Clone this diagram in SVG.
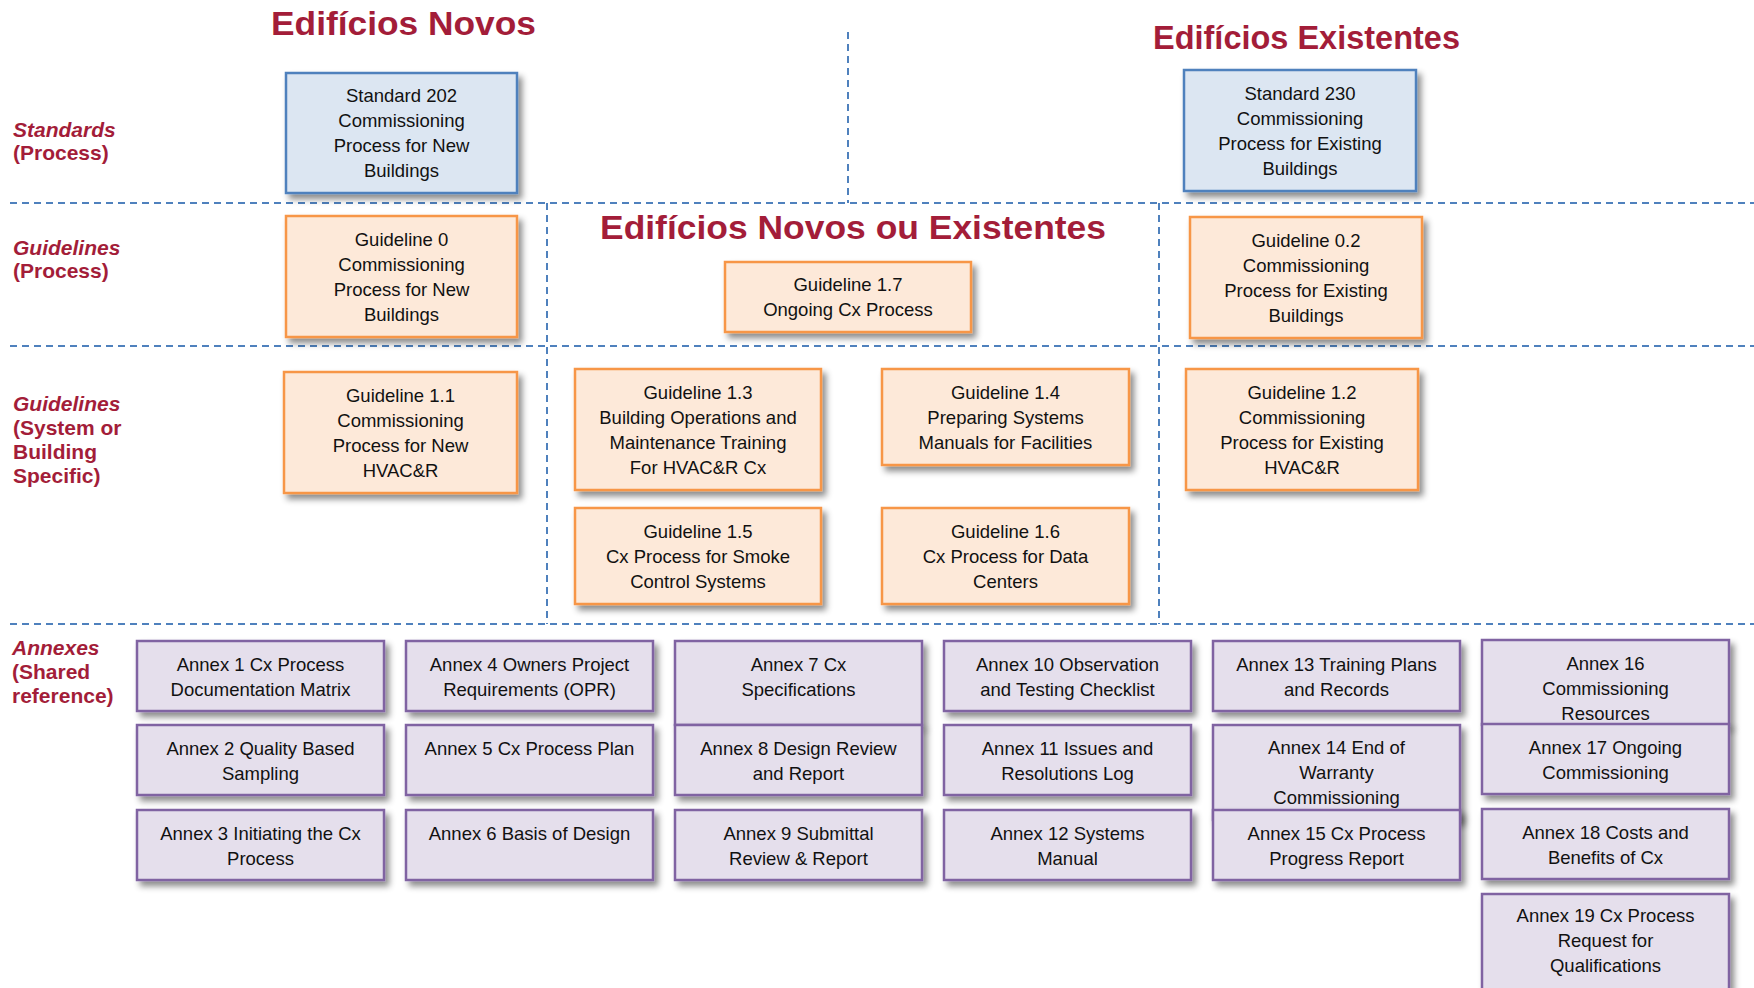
<svg xmlns="http://www.w3.org/2000/svg" width="1754" height="988" viewBox="0 0 1754 988">
<style>
.title{font-family:"Liberation Sans",Arial,sans-serif;font-weight:bold;font-size:33px;fill:#A31D39}
.lbl{font-family:"Liberation Sans",Arial,sans-serif;font-weight:bold;font-size:21px;fill:#A31D39}
.it{font-style:italic}
.t{font-family:"Liberation Sans",Arial,sans-serif;font-size:18.5px;fill:#111;text-anchor:middle}
.std{fill:#DCE6F2;stroke:#4F81BD;stroke-width:2.5}
.gl{fill:#FDE9D9;stroke:#F79646;stroke-width:2.5}
.ax{fill:#E5DFEC;stroke:#8064A2;stroke-width:2.5}
.sep{stroke:#4F81BD;stroke-width:2;stroke-dasharray:7 5;fill:none}
</style>
<defs>
<filter id="sh" x="-10%" y="-10%" width="130%" height="140%">
<feDropShadow dx="4" dy="5" stdDeviation="3" flood-color="#000" flood-opacity="0.45"/>
</filter>
</defs>
<rect width="1754" height="988" fill="#fff"/>

<g id="separators">
<line class="sep" x1="848" y1="32" x2="848" y2="203"/>
<line class="sep" x1="10" y1="203" x2="1754" y2="203"/>
<line class="sep" x1="10" y1="346" x2="1754" y2="346"/>
<line class="sep" x1="10" y1="624" x2="1754" y2="624"/>
<line class="sep" x1="547" y1="203" x2="547" y2="624"/>
<line class="sep" x1="1159" y1="203" x2="1159" y2="624"/>
</g>

<g id="titles">
<text class="title" x="271" y="35" textLength="265" lengthAdjust="spacingAndGlyphs">Edifícios Novos</text>
<text class="title" x="1153" y="49" textLength="307" lengthAdjust="spacingAndGlyphs">Edifícios Existentes</text>
<text class="title" x="600" y="239" textLength="506" lengthAdjust="spacingAndGlyphs">Edifícios Novos ou Existentes</text>
</g>

<g id="row-labels">
<text class="lbl it" x="13" y="137">Standards</text>
<text class="lbl" x="13" y="160">(Process)</text>
<text class="lbl it" x="13" y="255">Guidelines</text>
<text class="lbl" x="13" y="278">(Process)</text>
<text class="lbl it" x="13" y="411">Guidelines</text>
<text class="lbl" x="13" y="435">(System or</text>
<text class="lbl" x="13" y="459">Building</text>
<text class="lbl" x="13" y="483">Specific)</text>
<text class="lbl it" x="12" y="655">Annexes</text>
<text class="lbl" x="12" y="679">(Shared</text>
<text class="lbl" x="12" y="703">reference)</text>
</g>

<g id="std202"><rect class="std" x="286" y="73" width="231" height="120" filter="url(#sh)"/>
<text class="t" x="401.5" y="102">Standard 202</text><text class="t" x="401.5" y="127">Commissioning</text><text class="t" x="401.5" y="152">Process for New</text><text class="t" x="401.5" y="177">Buildings</text></g>

<g id="std230"><rect class="std" x="1184" y="70" width="232" height="121" filter="url(#sh)"/>
<text class="t" x="1300" y="99.5">Standard 230</text><text class="t" x="1300" y="124.5">Commissioning</text><text class="t" x="1300" y="149.5">Process for Existing</text><text class="t" x="1300" y="174.5">Buildings</text></g>

<g id="gl0"><rect class="gl" x="286" y="216" width="231" height="121" filter="url(#sh)"/>
<text class="t" x="401.5" y="245.5">Guideline 0</text><text class="t" x="401.5" y="270.5">Commissioning</text><text class="t" x="401.5" y="295.5">Process for New</text><text class="t" x="401.5" y="320.5">Buildings</text></g>

<g id="gl17"><rect class="gl" x="725" y="262" width="246" height="70" filter="url(#sh)"/>
<text class="t" x="848" y="291">Guideline 1.7</text><text class="t" x="848" y="316">Ongoing Cx Process</text></g>

<g id="gl02"><rect class="gl" x="1190" y="217" width="232" height="121" filter="url(#sh)"/>
<text class="t" x="1306" y="246.5">Guideline 0.2</text><text class="t" x="1306" y="271.5">Commissioning</text><text class="t" x="1306" y="296.5">Process for Existing</text><text class="t" x="1306" y="321.5">Buildings</text></g>

<g id="gl11"><rect class="gl" x="284" y="372" width="233" height="121" filter="url(#sh)"/>
<text class="t" x="400.5" y="401.5">Guideline 1.1</text><text class="t" x="400.5" y="426.5">Commissioning</text><text class="t" x="400.5" y="451.5">Process for New</text><text class="t" x="400.5" y="476.5">HVAC&amp;R</text></g>

<g id="gl13"><rect class="gl" x="575" y="369" width="246" height="121" filter="url(#sh)"/>
<text class="t" x="698" y="398.5">Guideline 1.3</text><text class="t" x="698" y="423.5">Building Operations and</text><text class="t" x="698" y="448.5">Maintenance Training</text><text class="t" x="698" y="473.5">For HVAC&amp;R Cx</text></g>

<g id="gl14"><rect class="gl" x="882" y="369" width="247" height="96" filter="url(#sh)"/>
<text class="t" x="1005.5" y="398.5">Guideline 1.4</text><text class="t" x="1005.5" y="423.5">Preparing Systems</text><text class="t" x="1005.5" y="448.5">Manuals for Facilities</text></g>

<g id="gl15"><rect class="gl" x="575" y="508" width="246" height="96" filter="url(#sh)"/>
<text class="t" x="698" y="537.5">Guideline 1.5</text><text class="t" x="698" y="562.5">Cx Process for Smoke</text><text class="t" x="698" y="587.5">Control Systems</text></g>

<g id="gl16"><rect class="gl" x="882" y="508" width="247" height="96" filter="url(#sh)"/>
<text class="t" x="1005.5" y="537.5">Guideline 1.6</text><text class="t" x="1005.5" y="562.5">Cx Process for Data</text><text class="t" x="1005.5" y="587.5">Centers</text></g>

<g id="gl12"><rect class="gl" x="1186" y="369" width="232" height="121" filter="url(#sh)"/>
<text class="t" x="1302" y="398.5">Guideline 1.2</text><text class="t" x="1302" y="423.5">Commissioning</text><text class="t" x="1302" y="448.5">Process for Existing</text><text class="t" x="1302" y="473.5">HVAC&amp;R</text></g>

<g id="annex1"><rect class="ax" x="137" y="641" width="247" height="70" filter="url(#sh)"/>
<text class="t" x="260.5" y="670.5">Annex 1 Cx Process</text><text class="t" x="260.5" y="695.5">Documentation Matrix</text></g>
<g id="annex2"><rect class="ax" x="137" y="725" width="247" height="70" filter="url(#sh)"/>
<text class="t" x="260.5" y="754.5">Annex 2 Quality Based</text><text class="t" x="260.5" y="779.5">Sampling</text></g>
<g id="annex3"><rect class="ax" x="137" y="810" width="247" height="70" filter="url(#sh)"/>
<text class="t" x="260.5" y="839.5">Annex 3 Initiating the Cx</text><text class="t" x="260.5" y="864.5">Process</text></g>

<g id="annex4"><rect class="ax" x="406" y="641" width="247" height="70" filter="url(#sh)"/>
<text class="t" x="529.5" y="670.5">Annex 4 Owners Project</text><text class="t" x="529.5" y="695.5">Requirements (OPR)</text></g>
<g id="annex5"><rect class="ax" x="406" y="725" width="247" height="70" filter="url(#sh)"/>
<text class="t" x="529.5" y="754.5">Annex 5 Cx Process Plan</text></g>
<g id="annex6"><rect class="ax" x="406" y="810" width="247" height="70" filter="url(#sh)"/>
<text class="t" x="529.5" y="839.5">Annex 6 Basis of Design</text></g>

<g id="annex7"><rect class="ax" x="675" y="641" width="247" height="84" filter="url(#sh)"/>
<text class="t" x="798.5" y="670.5">Annex 7 Cx</text><text class="t" x="798.5" y="695.5">Specifications</text></g>
<g id="annex8"><rect class="ax" x="675" y="725" width="247" height="70" filter="url(#sh)"/>
<text class="t" x="798.5" y="754.5">Annex 8 Design Review</text><text class="t" x="798.5" y="779.5">and Report</text></g>
<g id="annex9"><rect class="ax" x="675" y="810" width="247" height="70" filter="url(#sh)"/>
<text class="t" x="798.5" y="839.5">Annex 9 Submittal</text><text class="t" x="798.5" y="864.5">Review &amp; Report</text></g>

<g id="annex10"><rect class="ax" x="944" y="641" width="247" height="70" filter="url(#sh)"/>
<text class="t" x="1067.5" y="670.5">Annex 10 Observation</text><text class="t" x="1067.5" y="695.5">and Testing Checklist</text></g>
<g id="annex11"><rect class="ax" x="944" y="725" width="247" height="70" filter="url(#sh)"/>
<text class="t" x="1067.5" y="754.5">Annex 11 Issues and</text><text class="t" x="1067.5" y="779.5">Resolutions Log</text></g>
<g id="annex12"><rect class="ax" x="944" y="810" width="247" height="70" filter="url(#sh)"/>
<text class="t" x="1067.5" y="839.5">Annex 12 Systems</text><text class="t" x="1067.5" y="864.5">Manual</text></g>

<g id="annex13"><rect class="ax" x="1213" y="641" width="247" height="70" filter="url(#sh)"/>
<text class="t" x="1336.5" y="670.5">Annex 13 Training Plans</text><text class="t" x="1336.5" y="695.5">and Records</text></g>
<g id="annex14"><rect class="ax" x="1213" y="725" width="247" height="95" filter="url(#sh)"/>
<text class="t" x="1336.5" y="754">Annex 14 End of</text><text class="t" x="1336.5" y="779">Warranty</text><text class="t" x="1336.5" y="804">Commissioning</text></g>
<g id="annex15"><rect class="ax" x="1213" y="810" width="247" height="70" filter="url(#sh)"/>
<text class="t" x="1336.5" y="839.5">Annex 15 Cx Process</text><text class="t" x="1336.5" y="864.5">Progress Report</text></g>

<g id="annex16"><rect class="ax" x="1482" y="640" width="247" height="85" filter="url(#sh)"/>
<text class="t" x="1605.5" y="670">Annex 16</text><text class="t" x="1605.5" y="695">Commissioning</text><text class="t" x="1605.5" y="719.5">Resources</text></g>
<g id="annex17"><rect class="ax" x="1482" y="724" width="247" height="70" filter="url(#sh)"/>
<text class="t" x="1605.5" y="753.5">Annex 17 Ongoing</text><text class="t" x="1605.5" y="778.5">Commissioning</text></g>
<g id="annex18"><rect class="ax" x="1482" y="809" width="247" height="70" filter="url(#sh)"/>
<text class="t" x="1605.5" y="838.5">Annex 18 Costs and</text><text class="t" x="1605.5" y="863.5">Benefits of Cx</text></g>
<g id="annex19"><rect class="ax" x="1482" y="894" width="247" height="110" filter="url(#sh)"/>
<text class="t" x="1605.5" y="922">Annex 19 Cx Process</text><text class="t" x="1605.5" y="947">Request for</text><text class="t" x="1605.5" y="972">Qualifications</text></g>
</svg>
